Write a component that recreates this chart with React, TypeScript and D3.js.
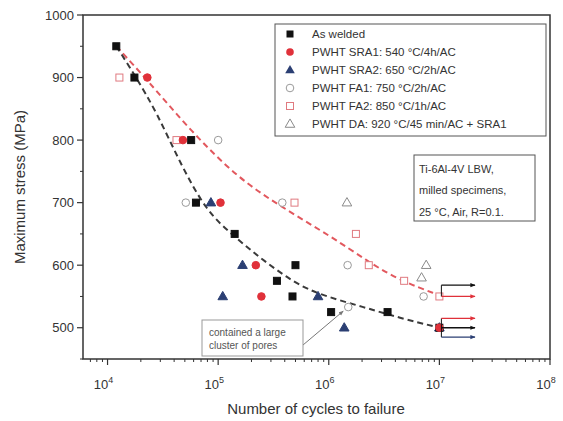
import React, { useRef, useEffect } from 'react';
import * as d3 from 'd3';

// S-N data: [cycles, stress MPa]
const asWelded: [number, number][] = [
  [12000, 950], [17500, 900], [57000, 800], [63000, 700], [141000, 650],
  [340000, 575], [500000, 600], [470000, 550], [1050000, 525], [3400000, 525], [10000000, 500],
];
const sra1: [number, number][] = [
  [22900, 900], [48000, 800], [105000, 700], [219000, 600], [246000, 550], [10000000, 500],
];
const sra2: [number, number][] = [
  [86000, 700], [166000, 600], [110000, 550], [800000, 550], [1380000, 500], [10000000, 500],
];
const fa1: [number, number][] = [
  [100000, 800], [51000, 700], [380000, 700], [1480000, 600], [7200000, 550], [1500000, 533],
];
const fa2: [number, number][] = [
  [12800, 900], [42000, 800], [490000, 700], [1760000, 650], [2300000, 600], [4800000, 575], [10000000, 550],
];
const da: [number, number][] = [
  [1460000, 700], [7600000, 600], [6900000, 580],
];

// dashed fit curves
const fitLower: [number, number][] = [
  [12000, 950], [17500, 905], [28100, 843], [45300, 763], [79000, 685], [136000, 648],
  [237000, 612], [414000, 581], [708000, 556], [2170000, 532], [4300000, 516], [10000000, 500],
];
const fitUpper: [number, number][] = [
  [12000, 950], [22900, 896], [55700, 816], [147000, 741], [358000, 695],
  [1070000, 645], [2170000, 608], [4300000, 576], [10000000, 552],
];

// run-out arrows at 10^7 cycles
const runoutTop = [568, 550];
const runoutTopColors = ['#111', '#e0313a'];
const runoutBottom = [515, 500, 485];
const runoutBottomColors = ['#e0313a', '#111', '#2b3f73'];

const legendLabels = [
  'As welded',
  'PWHT SRA1: 540 °C/4h/AC',
  'PWHT SRA2: 650 °C/2h/AC',
  'PWHT FA1: 750 °C/2h/AC',
  'PWHT FA2: 850 °C/1h/AC',
  'PWHT DA: 920 °C/45 min/AC + SRA1',
];
const yTicks = [500, 600, 700, 800, 900, 1000];
const xExponents = [4, 5, 6, 7, 8];
const infoLines = ['Ti-6Al-4V LBW,', 'milled specimens,', '25 °C, Air, R=0.1.'];
const noteLines = ['contained a large', 'cluster of pores'];

const FONT = '"Liberation Sans", Arial, sans-serif';

const App: React.FC = () => {
  const svgRef = useRef<SVGSVGElement>(null);

  useEffect(() => {
    const svg = d3.select(svgRef.current);
    svg.selectAll('*').remove();

    const left = 83, right = 550, top = 15, bottom = 359;

    const x = d3.scaleLog().domain([6000, 1e8]).range([left, right]);
    const y = d3.scaleLinear().domain([450, 1000]).range([bottom, top]);

    const defs = svg.append('defs');
    const mk = (id: string, color: string, size: number) => {
      defs.append('marker')
        .attr('id', id)
        .attr('viewBox', '0 0 10 10')
        .attr('refX', 9).attr('refY', 5)
        .attr('markerWidth', size).attr('markerHeight', size)
        .attr('orient', 'auto')
        .append('path')
        .attr('d', 'M0,1 L10,5 L0,9 Z')
        .attr('fill', color);
    };
    mk('arr-black', '#111', 4);
    mk('arr-red', '#e0313a', 4);
    mk('arr-blue', '#2b3f73', 4);
    mk('arr-gray', '#777', 5);
    const arrowId = (c: string) => (c === '#111' ? 'arr-black' : c === '#e0313a' ? 'arr-red' : 'arr-blue');

    // frame
    svg.append('rect')
      .attr('x', left).attr('y', top)
      .attr('width', right - left).attr('height', bottom - top)
      .attr('fill', 'none').attr('stroke', '#333').attr('stroke-width', 1.5);

    // x ticks (log, below axis)
    const minor: number[] = [];
    for (let e = 3; e < 8; e++) {
      for (let m = 2; m <= 9; m++) {
        const v = m * Math.pow(10, e);
        if (v > 6000 && v < 1e8) minor.push(v);
      }
    }
    svg.append('g').selectAll('line').data(minor).enter().append('line')
      .attr('x1', d => x(d)).attr('x2', d => x(d))
      .attr('y1', bottom).attr('y2', bottom + 3)
      .attr('stroke', '#333').attr('stroke-width', 1);
    svg.append('g').selectAll('line').data(xExponents).enter().append('line')
      .attr('x1', d => x(Math.pow(10, d))).attr('x2', d => x(Math.pow(10, d)))
      .attr('y1', bottom).attr('y2', bottom + 6)
      .attr('stroke', '#333').attr('stroke-width', 1.2);

    const xl = svg.append('g').selectAll('text').data(xExponents).enter().append('text')
      .attr('x', d => x(Math.pow(10, d)) - 4)
      .attr('y', 389)
      .attr('text-anchor', 'middle')
      .style('font-family', FONT).style('font-size', '13px').style('fill', '#333');
    xl.append('tspan').text('10');
    xl.append('tspan').attr('dy', -6).style('font-size', '9px').text(d => String(d));

    // y ticks
    svg.append('g').selectAll('line').data(d3.range(550, 1000, 100).concat([450])).enter().append('line')
      .attr('x1', left - 3).attr('x2', left)
      .attr('y1', d => y(d)).attr('y2', d => y(d))
      .attr('stroke', '#333');
    svg.append('g').selectAll('line').data(yTicks).enter().append('line')
      .attr('x1', left - 6).attr('x2', left)
      .attr('y1', d => y(d)).attr('y2', d => y(d))
      .attr('stroke', '#333').attr('stroke-width', 1.2);
    svg.append('g').selectAll('text').data(yTicks).enter().append('text')
      .attr('x', left - 9).attr('y', d => y(d))
      .attr('dy', '0.35em')
      .attr('text-anchor', 'end')
      .style('font-family', FONT).style('font-size', '13px').style('fill', '#333')
      .text(d => String(d));

    // axis titles
    svg.append('text')
      .attr('transform', `translate(25, ${(top + bottom) / 2}) rotate(-90)`)
      .attr('text-anchor', 'middle')
      .style('font-family', FONT).style('font-size', '15px').style('fill', '#333')
      .text('Maximum stress (MPa)');
    svg.append('text')
      .attr('x', 316).attr('y', 414)
      .attr('text-anchor', 'middle')
      .style('font-family', FONT).style('font-size', '15px').style('fill', '#333')
      .text('Number of cycles to failure');

    // fit curves
    const line = d3.line<[number, number]>()
      .x(d => x(d[0])).y(d => y(d[1]))
      .curve(d3.curveBasis);
    svg.append('path')
      .attr('fill', 'none').attr('stroke', '#e2585e').attr('stroke-width', 2)
      .attr('stroke-dasharray', '6,4')
      .attr('d', line(fitUpper));
    svg.append('path')
      .attr('fill', 'none').attr('stroke', '#3a3a3a').attr('stroke-width', 2)
      .attr('stroke-dasharray', '6,4')
      .attr('d', line(fitLower));

    // symbols
    type G = d3.Selection<SVGGElement, unknown, null, undefined>;
    const sq = (g: G, data: [number, number][], fill: string, stroke: string) => {
      g.selectAll('rect').data(data).enter().append('rect')
        .attr('x', d => x(d[0]) - 3.5).attr('y', d => y(d[1]) - 3.5)
        .attr('width', 7).attr('height', 7)
        .attr('fill', fill).attr('stroke', stroke).attr('stroke-width', 1);
    };
    const circ = (g: G, data: [number, number][], fill: string, stroke: string) => {
      g.selectAll('circle').data(data).enter().append('circle')
        .attr('cx', d => x(d[0])).attr('cy', d => y(d[1]))
        .attr('r', 3.8)
        .attr('fill', fill).attr('stroke', stroke).attr('stroke-width', 1);
    };
    const tri = (g: G, data: [number, number][], fill: string, stroke: string) => {
      const s = d3.symbol().type(d3.symbolTriangle).size(40);
      g.selectAll('path').data(data).enter().append('path')
        .attr('transform', d => `translate(${x(d[0])},${y(d[1]) + 0.5})`)
        .attr('d', s())
        .attr('fill', fill).attr('stroke', stroke).attr('stroke-width', 1);
    };

    circ(svg.append('g'), fa1, 'white', '#9a9a9a');
    sq(svg.append('g'), fa2, 'white', '#e07a80');
    tri(svg.append('g'), da, 'white', '#8a8a8a');
    tri(svg.append('g'), sra2, '#2b3f73', '#2b3f73');
    sq(svg.append('g'), asWelded, '#111', '#111');
    circ(svg.append('g'), sra1, '#e0313a', '#e0313a');

    // run-out brackets
    const x0 = x(1e7) + 2;
    const x1 = x(2.1e7);
    svg.append('line')
      .attr('x1', x0).attr('x2', x0)
      .attr('y1', y(d3.max(runoutTop)!)).attr('y2', y(d3.min(runoutTop)!))
      .attr('stroke', '#111');
    svg.append('line')
      .attr('x1', x0).attr('x2', x0)
      .attr('y1', y(d3.max(runoutBottom)!)).attr('y2', y(d3.min(runoutBottom)!))
      .attr('stroke', '#111');
    const arrows = runoutTop.map((v, i) => ({ v, c: runoutTopColors[i] }))
      .concat(runoutBottom.map((v, i) => ({ v, c: runoutBottomColors[i] })));
    svg.append('g').selectAll('line').data(arrows).enter().append('line')
      .attr('x1', x0).attr('x2', x1)
      .attr('y1', d => y(d.v)).attr('y2', d => y(d.v))
      .attr('stroke', d => d.c).attr('stroke-width', 1.3)
      .attr('marker-end', d => `url(#${arrowId(d.c)})`);

    // legend
    const lg = svg.append('g');
    lg.append('rect')
      .attr('x', 275).attr('y', 24).attr('width', 271).attr('height', 112)
      .attr('fill', 'white').attr('stroke', '#555').attr('stroke-width', 1);
    const ly = (i: number) => 34 + i * 18;
    const lx = 290;
    lg.append('rect').attr('x', lx - 3.5).attr('y', ly(0) - 3.5).attr('width', 7).attr('height', 7).attr('fill', '#111');
    lg.append('circle').attr('cx', lx).attr('cy', ly(1)).attr('r', 3.8).attr('fill', '#e0313a');
    lg.append('path').attr('transform', `translate(${lx},${ly(2) + 0.5})`)
      .attr('d', d3.symbol().type(d3.symbolTriangle).size(40)()).attr('fill', '#2b3f73');
    lg.append('circle').attr('cx', lx).attr('cy', ly(3)).attr('r', 3.8).attr('fill', 'white').attr('stroke', '#9a9a9a');
    lg.append('rect').attr('x', lx - 3.5).attr('y', ly(4) - 3.5).attr('width', 7).attr('height', 7)
      .attr('fill', 'white').attr('stroke', '#e07a80');
    lg.append('path').attr('transform', `translate(${lx},${ly(5) + 0.5})`)
      .attr('d', d3.symbol().type(d3.symbolTriangle).size(40)()).attr('fill', 'white').attr('stroke', '#8a8a8a');
    lg.selectAll('text.lab').data(legendLabels).enter().append('text')
      .attr('class', 'lab')
      .attr('x', 312).attr('y', (_, i) => ly(i))
      .attr('dy', '0.35em')
      .style('font-family', FONT).style('font-size', '11.5px').style('fill', '#333')
      .text(d => d);

    // info box
    svg.append('rect')
      .attr('x', 414).attr('y', 155).attr('width', 121).attr('height', 66)
      .attr('fill', 'white').attr('stroke', '#555');
    svg.append('g').selectAll('text').data(infoLines).enter().append('text')
      .attr('x', 419).attr('y', (_, i) => 169 + i * 21.5)
      .attr('dy', '0.35em')
      .style('font-family', FONT).style('font-size', '11px').style('fill', '#333')
      .text(d => d);

    // pores note
    const target = fa1[5];
    svg.append('line')
      .attr('x1', 303).attr('y1', 345)
      .attr('x2', x(target[0]) - 5).attr('y2', y(target[1]) + 4)
      .attr('stroke', '#777').attr('stroke-width', 1)
      .attr('marker-end', 'url(#arr-gray)');
    svg.append('rect')
      .attr('x', 202).attr('y', 320).attr('width', 101).attr('height', 36)
      .attr('fill', 'white').attr('stroke', '#999');
    svg.append('g').selectAll('text').data(noteLines).enter().append('text')
      .attr('x', 209).attr('y', (_, i) => 332 + i * 13)
      .attr('dy', '0.35em')
      .style('font-family', FONT).style('font-size', '10px').style('fill', '#555')
      .text(d => d);
  }, []);

  return (
    <svg
      ref={svgRef}
      width={563}
      height={421}
      style={{ position: 'absolute', left: 0, top: 0, background: 'white' }}
    />
  );
};

export default App;
